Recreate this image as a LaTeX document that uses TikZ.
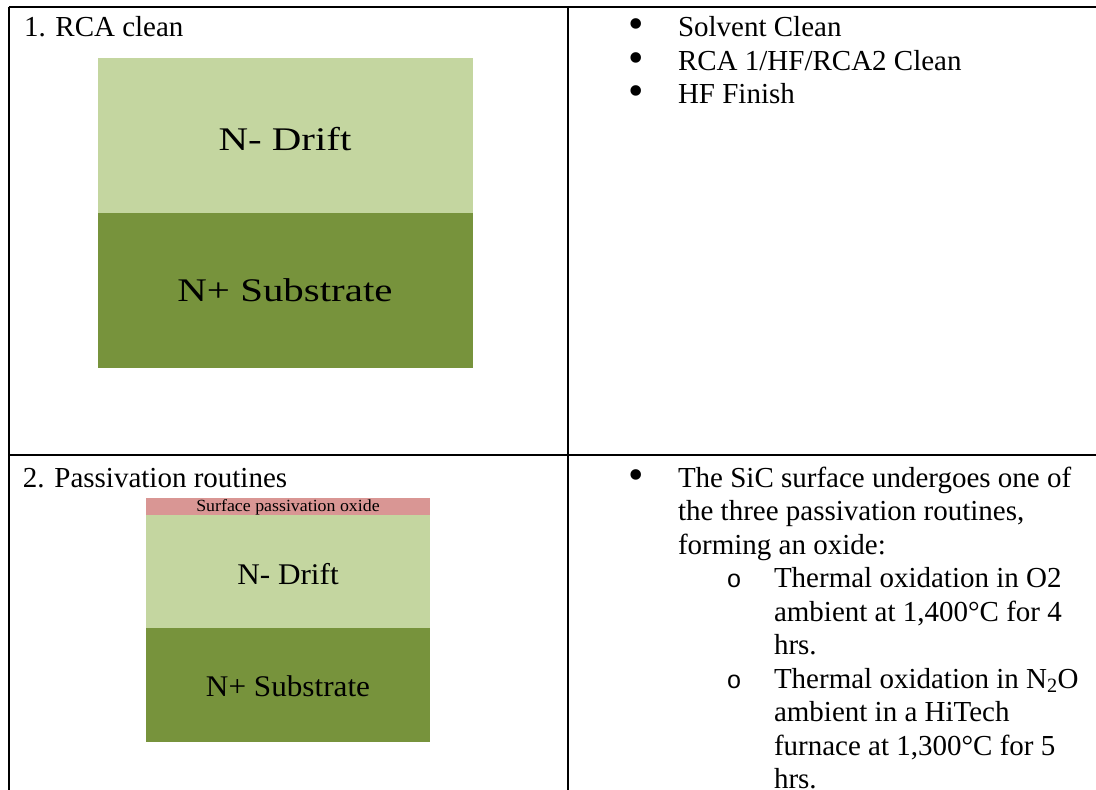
\documentclass[tikz,border=0pt]{standalone}
\usepackage{fontspec}
\usepackage{graphicx}
\setmainfont{Liberation Serif}
\newfontfamily\monof{Liberation Mono}
\definecolor{driftc}{HTML}{C4D6A0}
\definecolor{subc}{HTML}{77933C}
\definecolor{oxc}{HTML}{D99694}
\begin{document}
\begin{tikzpicture}[x=1pt,y=-1pt,
  body/.style={font=\fontsize{29}{33.5}\selectfont, anchor=base west, inner sep=0pt, outer sep=0pt},
  mark1/.style={font=\fontsize{44}{44}\selectfont, anchor=center, inner sep=0pt},
  mark2/.style={font=\monof\fontsize{25}{33.5}\selectfont, anchor=base, inner sep=0pt},
  big/.style={font=\fontsize{33}{36}\selectfont, anchor=base, inner sep=0pt},
  mid/.style={font=\fontsize{30}{33}\selectfont, anchor=base, inner sep=0pt},
  small/.style={font=\fontsize{17}{18}\selectfont, anchor=base, inner sep=0pt},
  rule/.style={line width=2pt, black}]
\useasboundingbox (0,0) rectangle (1096,790);
% table rules
\coordinate (tl) at (8.5,6.5);
\coordinate (tr) at (1096,6.5);
\coordinate (bl) at (8.5,790);
\coordinate (ml) at (8.5,455);
\coordinate (mr) at (1096,455);
\coordinate (ct) at (568,6.5);
\coordinate (cb) at (568,790);
\draw[rule] (tl) -- (tr);
\draw[rule] (tl) -- (bl);
\draw[rule] (ml) -- (mr);
\draw[rule] (ct) -- (cb);
% row 1 cross-section
\fill[driftc] (98,58) rectangle (473,213);
\fill[subc] (98,213) rectangle (473,368);
\node[big] (d1) at (285,150) {\scalebox{1.24}[1]{N- Drift}};
\node[big] (s1) at (285,301) {\scalebox{1.24}[1]{N+ Substrate}};
% row 2 cross-section
\fill[oxc] (146,498) rectangle (430,515);
\fill[driftc] (146,515) rectangle (430,628);
\fill[subc] (146,628) rectangle (430,742);
\node[small] (o2) at (288,511.5) {\scalebox{1.05}[1]{Surface passivation oxide}};
\node[mid] (d2) at (288,584) {\scalebox{1.04}[1]{N- Drift}};
\node[mid] (s2) at (288,696) {\scalebox{1.04}[1]{N+ Substrate}};
% left column headings
\node[body] (h1) at (24,36.5) {1. RCA clean};
\node[body] (h2) at (23,487) {2. Passivation routines};
% right column, row 1
\node[mark1] (b1) at (636,29) {•};
\node[body] (t1) at (678,36.5) {Solvent Clean};
\node[mark1] (b2) at (636,62.5) {•};
\node[body] (t2) at (678,70) {RCA 1/HF/RCA2 Clean};
\node[mark1] (b3) at (636,96) {•};
\node[body] (t3) at (678,103.5) {HF Finish};
% right column, row 2
\node[mark1] (b4) at (636,479.5) {•};
\node[body] (u1) at (678,487) {The SiC surface undergoes one of};
\node[body] (u2) at (678,520.5) {the three passivation routines,};
\node[body] (u3) at (678,554) {forming an oxide:};
\node[mark2] (c1) at (734,587.5) {o};
\node[body] (v1) at (774,587.5) {Thermal oxidation in O2};
\node[body] (v2) at (774,621) {ambient at 1,400°C for 4};
\node[body] (v3) at (774,654.5) {hrs.};
\node[mark2] (c2) at (734,688) {o};
\node[body] (w1) at (774,688) {Thermal oxidation in N\textsubscript{2}O};
\node[body] (w2) at (774,721.5) {ambient in a HiTech};
\node[body] (w3) at (774,755) {furnace at 1,300°C for 5};
\node[body] (w4) at (774,788.5) {hrs.};
\end{tikzpicture}
\end{document}
